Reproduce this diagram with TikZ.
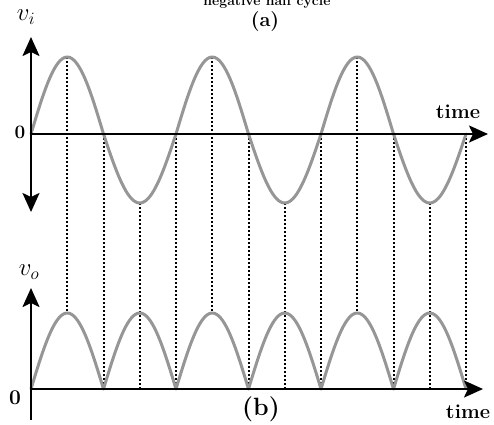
\documentclass[tikz,border=0pt]{standalone}
\usetikzlibrary{arrows.meta}
\definecolor{wavegray}{RGB}{150,150,150}
\tikzset{
  wave/.style={draw=wavegray, line width=3pt, line cap=round, line join=round},
  axisline/.style={draw=black, line width=2.2pt},
  guide/.style={draw=black, line width=2pt, dash pattern=on 2pt off 2pt},
  bigtip/.style={>={Stealth[length=19pt,width=17pt,inset=4pt]}},
  lbl/.style={inner sep=0pt, outer sep=0pt}
}
\begin{document}
\begin{tikzpicture}[x=1pt,y=-1pt]
\useasboundingbox (0,0) rectangle (494,424);
% named coordinates for axes
\coordinate (ta0) at (31,134);
\coordinate (taup) at (31,37);
\coordinate (tadn) at (31,212);
\coordinate (tart) at (488,134);
\coordinate (ba0) at (31,389);
\coordinate (baup) at (31,288);
\coordinate (badn) at (31,420);
\coordinate (bart) at (483,389);
% dotted guide lines
\foreach \p [count=\i] in {67.25,212.25,357.25} {
  \coordinate (pt\i) at (\p,57);
  \coordinate (pb\i) at (\p,313);
  \draw[guide] (pt\i) -- (pb\i);
}
\foreach \t [count=\i] in {139.75,284.75,429.75} {
  \coordinate (tt\i) at (\t,203);
  \coordinate (tb\i) at (\t,389);
  \draw[guide] (tt\i) -- (tb\i);
}
\foreach \z [count=\i] in {103.5,176,248.5,321,393.5,466} {
  \coordinate (zt\i) at (\z,134);
  \coordinate (zb\i) at (\z,389);
  \draw[guide] (zt\i) -- (zb\i);
}
% waves
\foreach \k in {0,...,5} {
  \pgfmathsetmacro\xs{31+72.5*\k}
  \pgfmathsetmacro\amp{ifthenelse(mod(\k,2)==0,77,-69)}
  \draw[wave] plot[domain=0:72.5,samples=40,smooth] ({\xs+\x},{134-\amp*sin(\x*180/72.5)});
  \draw[wave] plot[domain=0:72.5,samples=40,smooth] ({\xs+\x},{389-76*sin(\x*180/72.5)});
}
% axes
\draw[axisline,bigtip,<->] (tadn) -- (taup);
\draw[axisline,bigtip,->] (ta0) -- (tart);
\draw[axisline] (badn) -- (ba0);
\draw[axisline,bigtip,->] (ba0) -- (baup);
\draw[axisline,bigtip,->] (ba0) -- (bart);
% labels
\node[lbl, anchor=base, font=\bfseries\fontsize{14}{14}\selectfont] (neg) at (267,5) {negative half cycle};
\node[lbl, font=\bfseries\fontsize{20}{20}\selectfont] (lba) at (265,22) {(a)};
\node[lbl, font=\fontsize{25}{25}\selectfont] (vi) at (26,17) {$v_i$};
\node[lbl, font=\bfseries\fontsize{19}{19}\selectfont] (zlt) at (20,132) {0};
\node[lbl, font=\bfseries\fontsize{20}{20}\selectfont] (timet) at (458,112) {time};
\node[lbl, font=\fontsize{25}{25}\selectfont] (vo) at (29,272) {$v_o$};
\node[lbl, font=\bfseries\fontsize{21}{21}\selectfont] (zlb) at (15,398) {0};
\node[lbl, font=\bfseries\fontsize{25}{25}\selectfont] (lbb) at (261,409) {(b)};
\node[lbl, font=\bfseries\fontsize{20}{20}\selectfont] (timeb) at (468,412) {time};
\end{tikzpicture}
\end{document}
